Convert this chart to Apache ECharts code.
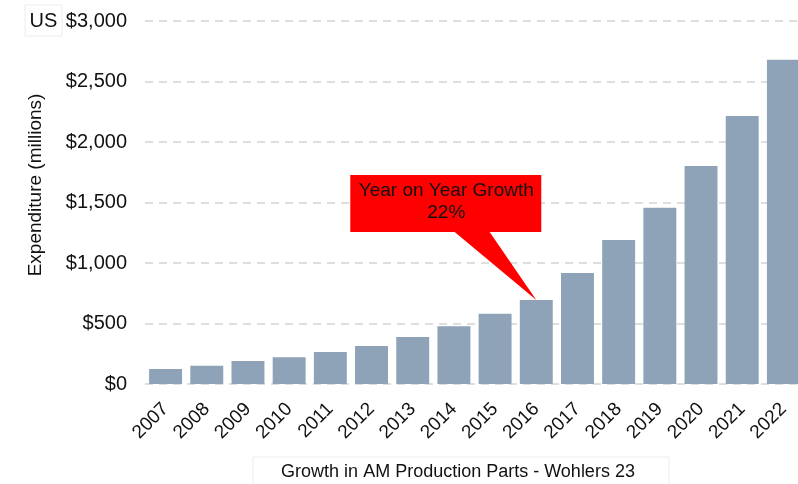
<!DOCTYPE html>
<html>
<head>
<meta charset="utf-8">
<script src="https://cdn.jsdelivr.net/npm/echarts@6/dist/echarts.min.js"></script>
<style>
  html, body { margin: 0; padding: 0; background: #fff; }
  #container { width: 798px; height: 484px; }
</style>
</head>
<body>
<div id="container"></div>
<script>
// 数据
var years = ['2007', '2008', '2009', '2010', '2011', '2012', '2013', '2014',
             '2015', '2016', '2017', '2018', '2019', '2020', '2021', '2022'];
var spending = [125, 150, 190, 222, 265, 314, 388, 478,
                580, 694, 917, 1190, 1456, 1802, 2215, 2680];
var yTicks = [0, 500, 1000, 1500, 2000, 2500, 3000];
var calloutYear = '2016';
var calloutText = ['Year on Year Growth', '22%'];

var FONT = 'Liberation Sans, Arial, sans-serif';

var chart = echarts.init(document.getElementById('container'));

var option = {
    backgroundColor: '#fff',
    animation: false,
    grid: { left: 145, width: 659, top: 21, height: 363, outerBoundsMode: 'none', containLabel: false },
    xAxis: {
        type: 'category',
        data: years,
        axisLine: { show: false },
        axisTick: { show: false },
        axisLabel: { rotate: 45, margin: 22, fontSize: 19, color: '#111', fontFamily: FONT }
    },
    yAxis: {
        type: 'value',
        min: yTicks[0],
        max: yTicks[yTicks.length - 1],
        interval: yTicks[1] - yTicks[0],
        axisLine: { show: false },
        axisTick: { show: false },
        axisLabel: {
            fontSize: 20, color: '#111', fontFamily: FONT, margin: 18,
            formatter: function (v) { return '$' + v.toLocaleString('en-US'); }
        },
        splitLine: { lineStyle: { color: '#d4d4d4', width: 1.5, type: [8, 6] } }
    },
    series: [{
        type: 'bar',
        data: spending,
        barCategoryGap: '20%',
        itemStyle: { color: '#8ea3b8' }
    }]
};
chart.setOption(option);

// 标注框, 位置由 2016 柱顶算出
var idx = years.indexOf(calloutYear);
var tip = chart.convertToPixel({ seriesIndex: 0 }, [calloutYear, spending[idx]]);
chart.setOption({
    graphic: [
        {
            type: 'polygon',
            shape: { points: [[tip[0] - 84, tip[1] - 70], [tip[0] - 48, tip[1] - 70], [tip[0], tip[1]]] },
            style: { fill: '#ff0000' }
        },
        {
            type: 'rect',
            shape: { x: tip[0] - 186, y: tip[1] - 125, width: 191, height: 57 },
            style: { fill: '#ff0000' }
        },
        {
            type: 'text',
            x: tip[0] - 90, y: tip[1] - 98,
            style: {
                text: calloutText.join('\n'), fill: '#111', fontSize: 19, fontFamily: FONT,
                align: 'center', verticalAlign: 'middle', lineHeight: 22
            }
        },
        // y 轴标题
        {
            type: 'text', x: 36, y: 185, rotation: Math.PI / 2,
            style: {
                text: 'Expenditure (millions)', fill: '#111', fontSize: 19, fontFamily: FONT,
                align: 'center', verticalAlign: 'middle'
            }
        },
        // US 标签
        {
            type: 'rect',
            shape: { x: 25, y: 5, width: 37, height: 31 },
            style: { fill: '#fff', stroke: '#ececec', lineWidth: 1 }
        },
        {
            type: 'text', x: 43.5, y: 21,
            style: { text: 'US', fill: '#111', fontSize: 20, fontFamily: FONT, align: 'center', verticalAlign: 'middle' }
        },
        // 底部标题
        {
            type: 'rect',
            shape: { x: 253, y: 457, width: 416, height: 30 },
            style: { fill: '#fff', stroke: '#ececec', lineWidth: 1 }
        },
        {
            type: 'text', x: 458, y: 472,
            style: {
                text: 'Growth in AM Production Parts - Wohlers 23', fill: '#111', fontSize: 18,
                fontFamily: FONT, align: 'center', verticalAlign: 'middle'
            }
        }
    ]
});
</script>
</body>
</html>
